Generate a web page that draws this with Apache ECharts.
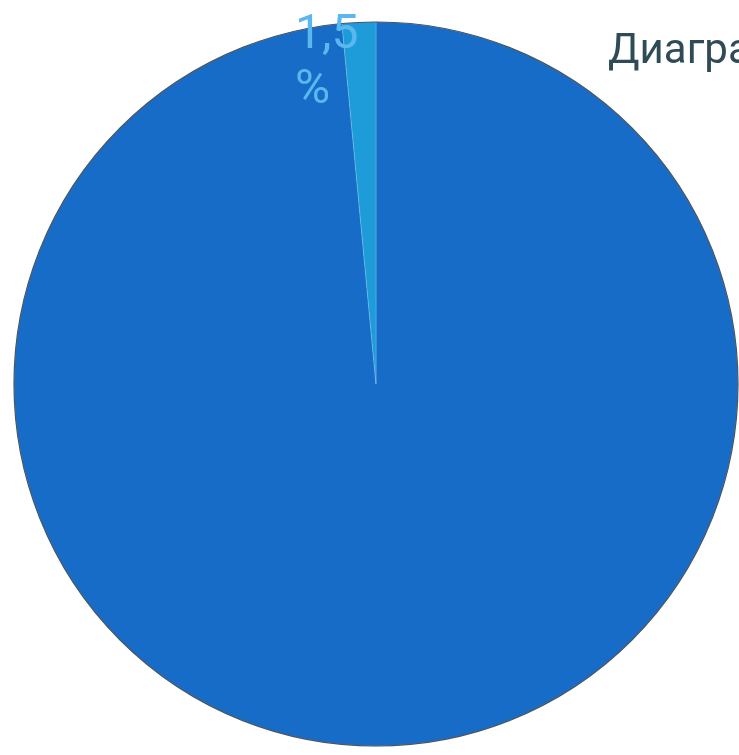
<!DOCTYPE html>
<html><head><meta charset="utf-8">
<script src="https://cdn.jsdelivr.net/npm/echarts@6/dist/echarts.min.js"></script>
<style>html,body{margin:0;padding:0;background:#fff}#c{width:739px;height:755px}</style>
</head><body><div id="c"></div>
<script>
var categories = ['Остальное', 'Доля'];
var values = [98.5, 1.5];
var labels = ['', '1,5\n%'];
var titleText = 'Диаграмма';

var chart = echarts.init(document.getElementById('c'), null, {renderer: 'canvas'});
var data = categories.map(function (c, i) {
  return {
    name: c, value: values[i],
    label: {show: i === 1, formatter: labels[i]}
  };
});
chart.setOption({
  animation: false,
  title: {
    text: titleText, left: 603, top: 26,
    textStyle: {fontFamily: 'Roboto', fontSize: 42, fontWeight: 'normal', color: '#2f4b55'}
  },
  series: [{
    type: 'pie',
    center: [376, 384],
    radius: [0, 362],
    startAngle: 90,
    clockwise: true,
    data: data,
    color: ['#166cc6', '#1e9cda'],
    itemStyle: {borderWidth: 0.6, borderColor: 'rgba(140,200,240,0.6)'},
    label: {
      position: 'outside',
      color: '#5ab8ee',
      fontFamily: 'Roboto',
      fontSize: 48,
      lineHeight: 55,
      align: 'left'
    },
    labelLine: {show: false},
    labelLayout: function (p) {
      if (p.dataIndex === 1) return {x: 295, y: 63, align: 'left', verticalAlign: 'middle'};
    }
  }, {
    type: 'pie',
    silent: true,
    center: [376, 384],
    radius: [0, 362],
    data: [{value: 1}],
    label: {show: false},
    labelLine: {show: false},
    itemStyle: {color: 'rgba(0,0,0,0)', borderColor: '#4a5560', borderWidth: 1.2}
  }]
});
</script></body></html>
